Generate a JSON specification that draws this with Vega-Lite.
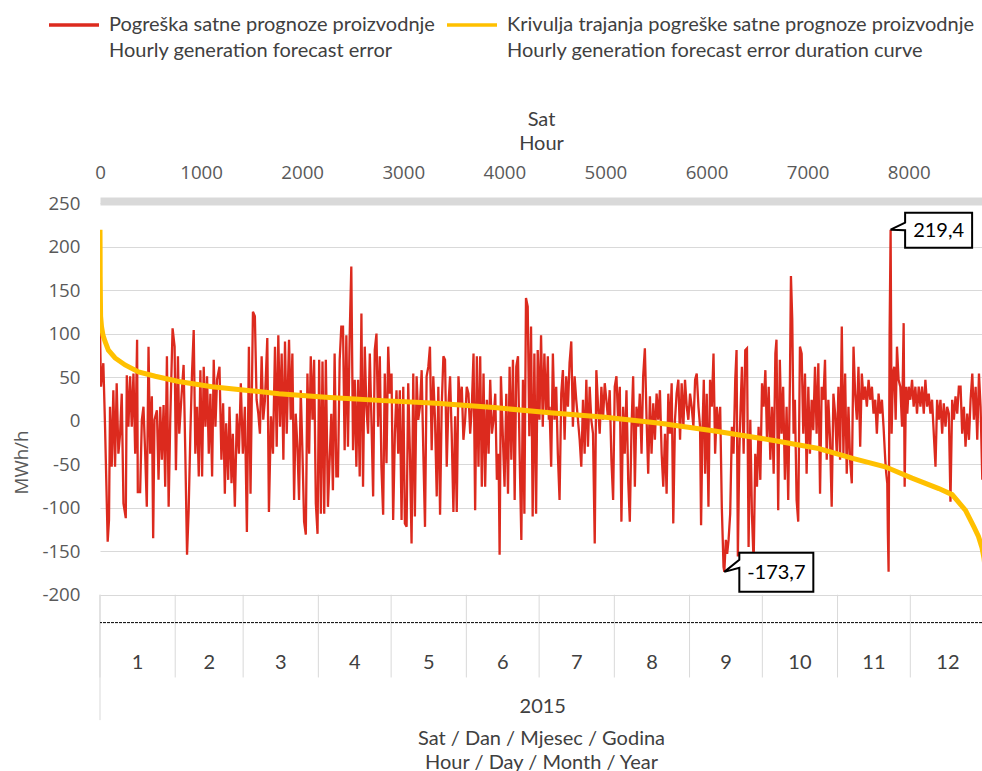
{
"$schema": "https://vega.github.io/schema/vega-lite/v6.json",
"width": 882, "height": 518,
"autosize": {"type": "none"},
"padding": {"left": 100, "top": 203, "right": 0, "bottom": 50},
"background": "white",
"config": {"view": {"stroke": null}, "font": "Open Sans"},
"datasets": {
"err": [{"h":0,"v":104},{"h":10,"v":39},{"h":33,"v":66},{"h":50,"v":-7},{"h":76,"v":-139},{"h":89,"v":-114},{"h":99,"v":16},{"h":116,"v":-53},{"h":132,"v":35},{"h":149,"v":-53},{"h":165,"v":43},{"h":182,"v":-38},{"h":199,"v":-15},{"h":215,"v":31},{"h":232,"v":-95},{"h":255,"v":-112},{"h":265,"v":52},{"h":281,"v":-7},{"h":298,"v":51},{"h":314,"v":-7},{"h":331,"v":54},{"h":348,"v":-38},{"h":367,"v":93},{"h":374,"v":-82},{"h":397,"v":-82},{"h":414,"v":1},{"h":430,"v":16},{"h":447,"v":-38},{"h":463,"v":-99},{"h":480,"v":85},{"h":496,"v":-38},{"h":513,"v":28},{"h":526,"v":-135},{"h":539,"v":1},{"h":563,"v":12},{"h":579,"v":-68},{"h":596,"v":16},{"h":612,"v":-45},{"h":629,"v":18},{"h":645,"v":-76},{"h":662,"v":74},{"h":679,"v":-99},{"h":695,"v":1},{"h":718,"v":106},{"h":738,"v":85},{"h":751,"v":-57},{"h":771,"v":74},{"h":784,"v":-15},{"h":804,"v":24},{"h":827,"v":64},{"h":844,"v":-38},{"h":861,"v":-154},{"h":877,"v":-103},{"h":894,"v":-15},{"h":910,"v":54},{"h":927,"v":104},{"h":943,"v":-38},{"h":960,"v":16},{"h":977,"v":-64},{"h":993,"v":58},{"h":1010,"v":-64},{"h":1026,"v":62},{"h":1043,"v":-7},{"h":1059,"v":51},{"h":1076,"v":-38},{"h":1092,"v":31},{"h":1109,"v":-64},{"h":1125,"v":70},{"h":1142,"v":-7},{"h":1158,"v":47},{"h":1182,"v":62},{"h":1201,"v":-45},{"h":1218,"v":20},{"h":1235,"v":-84},{"h":1248,"v":-3},{"h":1268,"v":-68},{"h":1281,"v":16},{"h":1301,"v":-72},{"h":1314,"v":-15},{"h":1334,"v":-99},{"h":1354,"v":8},{"h":1374,"v":-38},{"h":1393,"v":43},{"h":1413,"v":-38},{"h":1433,"v":16},{"h":1453,"v":-128},{"h":1473,"v":85},{"h":1489,"v":-84},{"h":1513,"v":125},{"h":1532,"v":120},{"h":1549,"v":24},{"h":1566,"v":8},{"h":1582,"v":-15},{"h":1599,"v":74},{"h":1615,"v":1},{"h":1632,"v":24},{"h":1655,"v":95},{"h":1671,"v":-105},{"h":1691,"v":5},{"h":1711,"v":-38},{"h":1731,"v":85},{"h":1748,"v":-30},{"h":1764,"v":98},{"h":1781,"v":-7},{"h":1797,"v":77},{"h":1814,"v":-45},{"h":1830,"v":91},{"h":1847,"v":-15},{"h":1870,"v":93},{"h":1887,"v":1},{"h":1903,"v":77},{"h":1920,"v":-91},{"h":1936,"v":8},{"h":1953,"v":-30},{"h":1969,"v":-91},{"h":1986,"v":35},{"h":2003,"v":-38},{"h":2019,"v":-116},{"h":2036,"v":-131},{"h":2052,"v":54},{"h":2069,"v":-38},{"h":2085,"v":74},{"h":2102,"v":1},{"h":2118,"v":70},{"h":2135,"v":-95},{"h":2152,"v":-130},{"h":2168,"v":70},{"h":2185,"v":-107},{"h":2201,"v":68},{"h":2218,"v":-107},{"h":2234,"v":70},
{"h":2255,"v":-99},{"h":2288,"v":8},{"h":2304,"v":-80},{"h":2321,"v":77},{"h":2338,"v":-64},{"h":2354,"v":-64},{"h":2371,"v":70},{"h":2387,"v":108},{"h":2404,"v":108},{"h":2420,"v":-34},{"h":2437,"v":98},{"h":2453,"v":-30},{"h":2470,"v":98},{"h":2486,"v":177},{"h":2503,"v":-34},{"h":2520,"v":47},{"h":2536,"v":-53},{"h":2553,"v":47},{"h":2569,"v":-64},{"h":2586,"v":123},{"h":2602,"v":-76},{"h":2619,"v":85},{"h":2635,"v":16},{"h":2652,"v":-15},{"h":2669,"v":77},{"h":2685,"v":1},{"h":2702,"v":-87},{"h":2718,"v":81},{"h":2735,"v":100},{"h":2751,"v":-7},{"h":2768,"v":74},{"h":2784,"v":-53},{"h":2801,"v":-108},{"h":2817,"v":54},{"h":2834,"v":-49},{"h":2851,"v":85},{"h":2867,"v":31},{"h":2884,"v":54},{"h":2900,"v":-114},{"h":2917,"v":-15},{"h":2933,"v":35},{"h":2950,"v":-38},{"h":2966,"v":35},{"h":2983,"v":-114},{"h":3000,"v":39},{"h":3016,"v":-118},{"h":3033,"v":-122},{"h":3049,"v":43},{"h":3066,"v":-38},{"h":3082,"v":-141},{"h":3099,"v":54},{"h":3115,"v":-110},{"h":3132,"v":51},{"h":3148,"v":1},{"h":3165,"v":16},{"h":3182,"v":58},{"h":3198,"v":-34},{"h":3215,"v":-122},{"h":3231,"v":51},{"h":3248,"v":62},{"h":3264,"v":85},{"h":3281,"v":-34},{"h":3297,"v":51},{"h":3314,"v":1},{"h":3331,"v":-87},{"h":3347,"v":39},{"h":3364,"v":-108},{"h":3380,"v":16},{"h":3397,"v":74},{"h":3413,"v":70},{"h":3430,"v":-53},{"h":3446,"v":16},{"h":3463,"v":51},{"h":3479,"v":-15},{"h":3496,"v":-105},{"h":3513,"v":5},{"h":3529,"v":-105},{"h":3546,"v":51},{"h":3562,"v":16},{"h":3579,"v":39},{"h":3595,"v":-22},{"h":3612,"v":1},{"h":3628,"v":39},{"h":3645,"v":31},{"h":3662,"v":-15},{"h":3678,"v":16},{"h":3695,"v":77},{"h":3711,"v":-103},{"h":3728,"v":74},{"h":3744,"v":-53},{"h":3761,"v":74},{"h":3777,"v":-76},{"h":3794,"v":54},{"h":3810,"v":-76},{"h":3827,"v":24},{"h":3844,"v":-38},{"h":3860,"v":47},{"h":3877,"v":-15},{"h":3893,"v":1},{"h":3910,"v":31},{"h":3926,"v":-68},{"h":3943,"v":-38},{"h":3953,"v":-154},{"h":3966,"v":51},{"h":3986,"v":-22},{"h":4002,"v":-76},{"h":4019,"v":31},{"h":4036,"v":-84},{"h":4052,"v":62},{"h":4069,"v":-45},{"h":4085,"v":70},{"h":4102,"v":-91},{"h":4118,"v":62},{"h":4135,"v":74},{"h":4151,"v":-38},{"h":4168,"v":-137},{"h":4184,"v":47},{"h":4198,"v":-107},{"h":4214,"v":141},{"h":4231,"v":131},{"h":4247,"v":-18},{"h":4264,"v":108},{"h":4280,"v":-110},{"h":4297,"v":77},{"h":4314,"v":-107},{"h":4330,"v":81},{"h":4347,"v":1},{"h":4363,"v":98},{"h":4380,"v":-7},{"h":4396,"v":77},{"h":4413,"v":8},{"h":4430,"v":74},{"h":4440,"v":1},
{"h":4447,"v":16},{"h":4463,"v":-53},{"h":4480,"v":77},{"h":4496,"v":1},{"h":4513,"v":39},{"h":4529,"v":-38},{"h":4546,"v":-91},{"h":4563,"v":31},{"h":4579,"v":58},{"h":4596,"v":-22},{"h":4612,"v":51},{"h":4629,"v":16},{"h":4645,"v":66},{"h":4662,"v":91},{"h":4678,"v":-7},{"h":4695,"v":51},{"h":4711,"v":24},{"h":4728,"v":1},{"h":4745,"v":-22},{"h":4761,"v":-53},{"h":4778,"v":24},{"h":4794,"v":-38},{"h":4811,"v":47},{"h":4827,"v":-30},{"h":4844,"v":39},{"h":4860,"v":1},{"h":4877,"v":-15},{"h":4894,"v":-141},{"h":4910,"v":58},{"h":4927,"v":16},{"h":4943,"v":-15},{"h":4960,"v":39},{"h":4976,"v":1},{"h":4993,"v":43},{"h":5009,"v":24},{"h":5026,"v":1},{"h":5042,"v":35},{"h":5059,"v":-45},{"h":5076,"v":-91},{"h":5092,"v":39},{"h":5109,"v":51},{"h":5125,"v":1},{"h":5142,"v":39},{"h":5158,"v":-116},{"h":5175,"v":16},{"h":5191,"v":-38},{"h":5208,"v":35},{"h":5225,"v":-68},{"h":5241,"v":-116},{"h":5258,"v":-7},{"h":5274,"v":51},{"h":5291,"v":-76},{"h":5307,"v":16},{"h":5324,"v":-7},{"h":5340,"v":31},{"h":5357,"v":-38},{"h":5373,"v":51},{"h":5390,"v":83},{"h":5407,"v":1},{"h":5423,"v":-61},{"h":5440,"v":28},{"h":5456,"v":-38},{"h":5473,"v":20},{"h":5489,"v":-22},{"h":5506,"v":31},{"h":5522,"v":1},{"h":5539,"v":35},{"h":5556,"v":-38},{"h":5572,"v":-76},{"h":5589,"v":-15},{"h":5605,"v":-84},{"h":5622,"v":31},{"h":5638,"v":-15},{"h":5655,"v":43},{"h":5671,"v":-118},{"h":5688,"v":1},{"h":5704,"v":31},{"h":5721,"v":47},{"h":5738,"v":-22},{"h":5754,"v":43},{"h":5771,"v":-7},{"h":5787,"v":47},{"h":5804,"v":16},{"h":5820,"v":1},{"h":5837,"v":31},{"h":5853,"v":16},{"h":5870,"v":-7},{"h":5887,"v":47},{"h":5903,"v":54},{"h":5920,"v":16},{"h":5936,"v":-7},{"h":5946,"v":-120},{"h":5959,"v":-15},{"h":5973,"v":47},{"h":5986,"v":-61},{"h":6002,"v":31},{"h":6019,"v":-99},{"h":6035,"v":47},{"h":6052,"v":16},{"h":6069,"v":77},{"h":6085,"v":-38},{"h":6102,"v":16},{"h":6118,"v":-15},{"h":6135,"v":16},{"h":6151,"v":-99},{"h":6168,"v":-168},{"h":6176,"v":-173.7},{"h":6191,"v":-137},{"h":6204,"v":-153},{"h":6218,"v":-137},{"h":6234,"v":-107},{"h":6251,"v":-7},{"h":6267,"v":-38},{"h":6284,"v":47},{"h":6297,"v":81},{"h":6310,"v":-156},{"h":6324,"v":-38},{"h":6337,"v":16},{"h":6350,"v":62},{"h":6367,"v":-38},{"h":6383,"v":81},{"h":6400,"v":83},{"h":6416,"v":-145},{"h":6433,"v":1},{"h":6449,"v":-107},{"h":6466,"v":-164},{"h":6482,"v":-38},{"h":6499,"v":-76},{"h":6515,"v":-7},{"h":6532,"v":-68},{"h":6549,"v":43},{"h":6565,"v":16},{"h":6582,"v":58},{"h":6598,"v":-22},{"h":6615,"v":39},{"h":6631,"v":-45},{"h":6648,"v":16},{"h":6664,"v":-61},{"h":6681,"v":77},
{"h":6692,"v":93},{"h":6709,"v":-103},{"h":6725,"v":70},{"h":6742,"v":-15},{"h":6758,"v":39},{"h":6775,"v":-68},{"h":6792,"v":16},{"h":6808,"v":-91},{"h":6825,"v":47},{"h":6835,"v":166},{"h":6848,"v":116},{"h":6861,"v":-15},{"h":6874,"v":24},{"h":6891,"v":-91},{"h":6907,"v":-116},{"h":6924,"v":85},{"h":6941,"v":77},{"h":6957,"v":-15},{"h":6974,"v":54},{"h":6990,"v":-61},{"h":7007,"v":39},{"h":7023,"v":-38},{"h":7040,"v":24},{"h":7056,"v":-11},{"h":7073,"v":62},{"h":7089,"v":-15},{"h":7106,"v":66},{"h":7123,"v":-84},{"h":7139,"v":39},{"h":7156,"v":24},{"h":7172,"v":70},{"h":7189,"v":-45},{"h":7205,"v":24},{"h":7222,"v":-22},{"h":7238,"v":-99},{"h":7255,"v":31},{"h":7272,"v":8},{"h":7288,"v":-38},{"h":7305,"v":39},{"h":7321,"v":-45},{"h":7338,"v":108},{"h":7354,"v":-38},{"h":7371,"v":54},{"h":7387,"v":-61},{"h":7404,"v":16},{"h":7420,"v":-45},{"h":7437,"v":-72},{"h":7454,"v":85},{"h":7470,"v":31},{"h":7487,"v":1},{"h":7503,"v":62},{"h":7520,"v":-30},{"h":7536,"v":54},{"h":7553,"v":24},{"h":7569,"v":39},{"h":7586,"v":16},{"h":7603,"v":47},{"h":7619,"v":24},{"h":7636,"v":39},{"h":7652,"v":8},{"h":7669,"v":24},{"h":7685,"v":-15},{"h":7702,"v":31},{"h":7718,"v":8},{"h":7735,"v":24},{"h":7751,"v":-7},{"h":7768,"v":-45},{"h":7778,"v":-61},{"h":7788,"v":-72},{"h":7794,"v":-130},{"h":7801,"v":-173.6},{"h":7811,"v":100},{"h":7821,"v":219.4},{"h":7831,"v":-15},{"h":7844,"v":54},{"h":7857,"v":62},{"h":7871,"v":1},{"h":7884,"v":85},{"h":7900,"v":47},{"h":7917,"v":39},{"h":7934,"v":-7},{"h":7950,"v":112},{"h":7960,"v":-76},{"h":7973,"v":39},{"h":7986,"v":8},{"h":8000,"v":39},{"h":8016,"v":24},{"h":8033,"v":47},{"h":8049,"v":16},{"h":8066,"v":39},{"h":8082,"v":8},{"h":8099,"v":39},{"h":8116,"v":16},{"h":8132,"v":39},{"h":8149,"v":8},{"h":8165,"v":47},{"h":8182,"v":16},{"h":8198,"v":31},{"h":8215,"v":8},{"h":8231,"v":24},{"h":8248,"v":-15},{"h":8265,"v":-53},{"h":8281,"v":24},{"h":8298,"v":1},{"h":8314,"v":24},{"h":8331,"v":-15},{"h":8347,"v":20},{"h":8364,"v":-7},{"h":8380,"v":16},{"h":8397,"v":8},{"h":8413,"v":-93},{"h":8430,"v":24},{"h":8447,"v":1},{"h":8463,"v":28},{"h":8480,"v":8},{"h":8496,"v":39},{"h":8513,"v":39},{"h":8529,"v":-15},{"h":8546,"v":16},{"h":8562,"v":-30},{"h":8579,"v":8},{"h":8596,"v":-22},{"h":8612,"v":24},{"h":8629,"v":54},{"h":8645,"v":1},{"h":8662,"v":39},{"h":8678,"v":-22},{"h":8695,"v":54},{"h":8711,"v":16},{"h":8728,"v":-68}],
"dur": [{"h":0,"v":219.4},{"h":1,"v":200},{"h":2,"v":165},{"h":4,"v":140},{"h":6,"v":120},{"h":15,"v":108},{"h":30,"v":98},{"h":50,"v":91},{"h":83,"v":81},{"h":149,"v":72},{"h":248,"v":64},{"h":381,"v":56},{"h":546,"v":51},{"h":778,"v":45},{"h":1109,"v":39},{"h":1440,"v":35},{"h":1771,"v":31},{"h":2234,"v":27},{"h":2800,"v":23},{"h":3327,"v":20},{"h":3900,"v":15},{"h":4450,"v":9},{"h":5000,"v":4},{"h":5540,"v":-3},{"h":6080,"v":-12},{"h":6680,"v":-23},{"h":7108,"v":-32},{"h":7437,"v":-43},{"h":7768,"v":-53},{"h":8033,"v":-66},{"h":8298,"v":-78},{"h":8430,"v":-85},{"h":8562,"v":-103},{"h":8645,"v":-122},{"h":8690,"v":-133},{"h":8725,"v":-146},{"h":8745,"v":-158},{"h":8760,"v":-173.7}],
"months": [{"m":1,"start":0,"mid":372},{"m":2,"start":744,"mid":1080},{"m":3,"start":1416,"mid":1788},{"m":4,"start":2160,"mid":2520},{"m":5,"start":2880,"mid":3252},{"m":6,"start":3624,"mid":3984},{"m":7,"start":4344,"mid":4716},{"m":8,"start":5088,"mid":5460},{"m":9,"start":5832,"mid":6192},{"m":10,"start":6552,"mid":6924},{"m":11,"start":7296,"mid":7656},{"m":12,"start":8016,"mid":8388}],
"years": [{"year":"2015","mid":4380}],
"callouts": [{"h":7821,"v":219.4,"label":"219,4"},{"h":6176,"v":-173.7,"label":"-173,7"}]
},
"layer": [
{"data": {"name": "err"},
 "mark": {"type": "line", "strokeWidth": 2.3, "clip": true},
 "encoding": {
  "x": {"field": "h", "type": "quantitative", "scale": {"domain": [0, 8725], "nice": false, "zero": false},
        "axis": {"orient": "top", "values": [0,1000,2000,3000,4000,5000,6000,7000,8000], "format": "d", "title": ["Sat", "Hour"], "grid": false, "ticks": false, "domainColor": "#d9d9d9", "domainWidth": 8, "offset": 2, "labelFlush": false, "labelFont": "Open Sans", "labelFontSize": 18.7, "labelColor": "#595959", "labelPadding": 19, "titleFont": "Lato", "titleFontSize": 20, "titleFontWeight": "normal", "titleColor": "#404040", "titlePadding": 10, "titleLineHeight": 24}},
  "y": {"field": "v", "type": "quantitative", "scale": {"domain": [-345, 250], "nice": false, "zero": false},
        "axis": {"values": [-200,-150,-100,-50,0,50,100,150,200,250], "labelExpr": "toString(datum.value)", "title": "MWh/h", "grid": true, "gridColor": "#d9d9d9", "gridWidth": 1.2, "domain": false, "ticks": false, "labelFont": "Open Sans", "labelFontSize": 18.7, "labelColor": "#595959", "labelPadding": 20, "titleFont": "Open Sans", "titleFontSize": 18.7, "titleFontWeight": "normal", "titleColor": "#595959", "titlePadding": 10}},
  "color": {"datum": "Pogreška satne prognoze proizvodnje|Hourly generation forecast error", "type": "nominal",
        "scale": {"domain": ["Pogreška satne prognoze proizvodnje|Hourly generation forecast error", "Krivulja trajanja pogreške satne prognoze proizvodnje|Hourly generation forecast error duration curve"], "range": ["#dc2a1e", "#ffc000"]},
        "legend": {"orient": "none", "legendX": -53, "legendY": -205, "direction": "horizontal", "title": null, "symbolType": "stroke", "symbolSize": 2500, "symbolStrokeWidth": 3.5, "labelExpr": "split(datum.label, '|')", "labelFont": "Lato", "labelFontSize": 20, "labelColor": "#404040", "labelLimit": 600, "labelOffset": 8, "columnPadding": 5, "labelBaseline": "middle",
          "encode": {"labels": {"update": {"lineHeight": {"value": 26}}}}}}
 }},
{"data": {"name": "dur"},
 "mark": {"type": "line", "strokeWidth": 5, "clip": true},
 "encoding": {
  "x": {"field": "h", "type": "quantitative", "scale": {"domain": [0, 8725], "nice": false, "zero": false}, "axis": null},
  "y": {"field": "v", "type": "quantitative", "scale": {"domain": [-345, 250], "nice": false, "zero": false}},
  "color": {"datum": "Krivulja trajanja pogreške satne prognoze proizvodnje|Hourly generation forecast error duration curve", "type": "nominal"}
 }},
{"data": {"name": "months"},
 "mark": {"type": "rule", "color": "#d9d9d9", "strokeWidth": 1},
 "encoding": {
  "x": {"field": "start", "type": "quantitative", "scale": {"domain": [0, 8725], "nice": false, "zero": false}, "axis": null},
  "y": {"datum": -200, "type": "quantitative", "scale": {"domain": [-345, 250], "nice": false, "zero": false}},
  "y2": {"datum": -295}
 }},
{"data": {"values": [{"edge": 0}]},
 "mark": {"type": "rule", "color": "#d9d9d9", "strokeWidth": 1},
 "encoding": {
  "x": {"field": "edge", "type": "quantitative", "scale": {"domain": [0, 8725], "nice": false, "zero": false}, "axis": null},
  "y": {"datum": -200, "type": "quantitative", "scale": {"domain": [-345, 250], "nice": false, "zero": false}},
  "y2": {"datum": -344}
 }},
{"data": {"values": [{"ref": -232}]},
 "mark": {"type": "rule", "color": "#000000", "strokeWidth": 1, "strokeDash": [3, 1]},
 "encoding": {
  "y": {"field": "ref", "type": "quantitative", "scale": {"domain": [-345, 250], "nice": false, "zero": false}}
 }},
{"data": {"name": "months"},
 "mark": {"type": "text", "font": "Lato", "fontSize": 20, "color": "#404040", "baseline": "middle", "align": "center"},
 "encoding": {
  "x": {"field": "mid", "type": "quantitative", "scale": {"domain": [0, 8725], "nice": false, "zero": false}, "axis": null},
  "y": {"datum": -278, "type": "quantitative", "scale": {"domain": [-345, 250], "nice": false, "zero": false}},
  "text": {"field": "m", "type": "nominal"}
 }},
{"data": {"name": "years"},
 "mark": {"type": "text", "font": "Lato", "fontSize": 20, "color": "#404040", "baseline": "middle", "align": "center"},
 "encoding": {
  "x": {"field": "mid", "type": "quantitative", "scale": {"domain": [0, 8725], "nice": false, "zero": false},
        "axis": {"orient": "bottom", "labels": false, "ticks": false, "domain": false, "grid": false, "title": ["Sat / Dan / Mjesec / Godina", "Hour / Day / Month / Year"], "titleFont": "Lato", "titleFontSize": 20, "titleFontWeight": "normal", "titleColor": "#404040", "titlePadding": 7, "titleLineHeight": 24}},
  "y": {"datum": -329, "type": "quantitative", "scale": {"domain": [-345, 250], "nice": false, "zero": false}},
  "text": {"field": "year", "type": "nominal"}
 }},
{"data": {"name": "callouts"},
 "transform": [{"filter": "datum.v > 0"}],
 "mark": {"type": "point", "shape": "M0.145,-0.17 L0.815,-0.17 L0.815,0.18 L0.145,0.18 L0.145,0.005 L0,0 L0.145,-0.07 Z", "size": 40000, "fill": "#ffffff", "fillOpacity": 1, "stroke": "#000000", "strokeWidth": 2, "opacity": 1},
 "encoding": {
  "x": {"field": "h", "type": "quantitative", "scale": {"domain": [0, 8725], "nice": false, "zero": false}, "axis": null},
  "y": {"field": "v", "type": "quantitative", "scale": {"domain": [-345, 250], "nice": false, "zero": false}}
 }},
{"data": {"name": "callouts"},
 "transform": [{"filter": "datum.v < 0"}],
 "mark": {"type": "point", "shape": "M0.15,-0.19 L0.89,-0.19 L0.89,0.2 L0.15,0.2 L0.15,-0.04 L0,0 L0.15,-0.12 Z", "size": 40000, "fill": "#ffffff", "fillOpacity": 1, "stroke": "#000000", "strokeWidth": 2, "opacity": 1},
 "encoding": {
  "x": {"field": "h", "type": "quantitative", "scale": {"domain": [0, 8725], "nice": false, "zero": false}, "axis": null},
  "y": {"field": "v", "type": "quantitative", "scale": {"domain": [-345, 250], "nice": false, "zero": false}}
 }},
{"data": {"name": "callouts"},
 "transform": [{"filter": "datum.v > 0"}],
 "mark": {"type": "text", "font": "Lato", "fontSize": 20, "color": "#000000", "align": "center", "baseline": "middle", "dx": 48, "dy": 1},
 "encoding": {
  "x": {"field": "h", "type": "quantitative", "scale": {"domain": [0, 8725], "nice": false, "zero": false}, "axis": null},
  "y": {"field": "v", "type": "quantitative", "scale": {"domain": [-345, 250], "nice": false, "zero": false}},
  "text": {"field": "label", "type": "nominal"}
 }},
{"data": {"name": "callouts"},
 "transform": [{"filter": "datum.v < 0"}],
 "mark": {"type": "text", "font": "Lato", "fontSize": 20, "color": "#000000", "align": "center", "baseline": "middle", "dx": 52, "dy": 1},
 "encoding": {
  "x": {"field": "h", "type": "quantitative", "scale": {"domain": [0, 8725], "nice": false, "zero": false}, "axis": null},
  "y": {"field": "v", "type": "quantitative", "scale": {"domain": [-345, 250], "nice": false, "zero": false}},
  "text": {"field": "label", "type": "nominal"}
 }}
],
"resolve": {"axis": {"x": "independent"}}
}
